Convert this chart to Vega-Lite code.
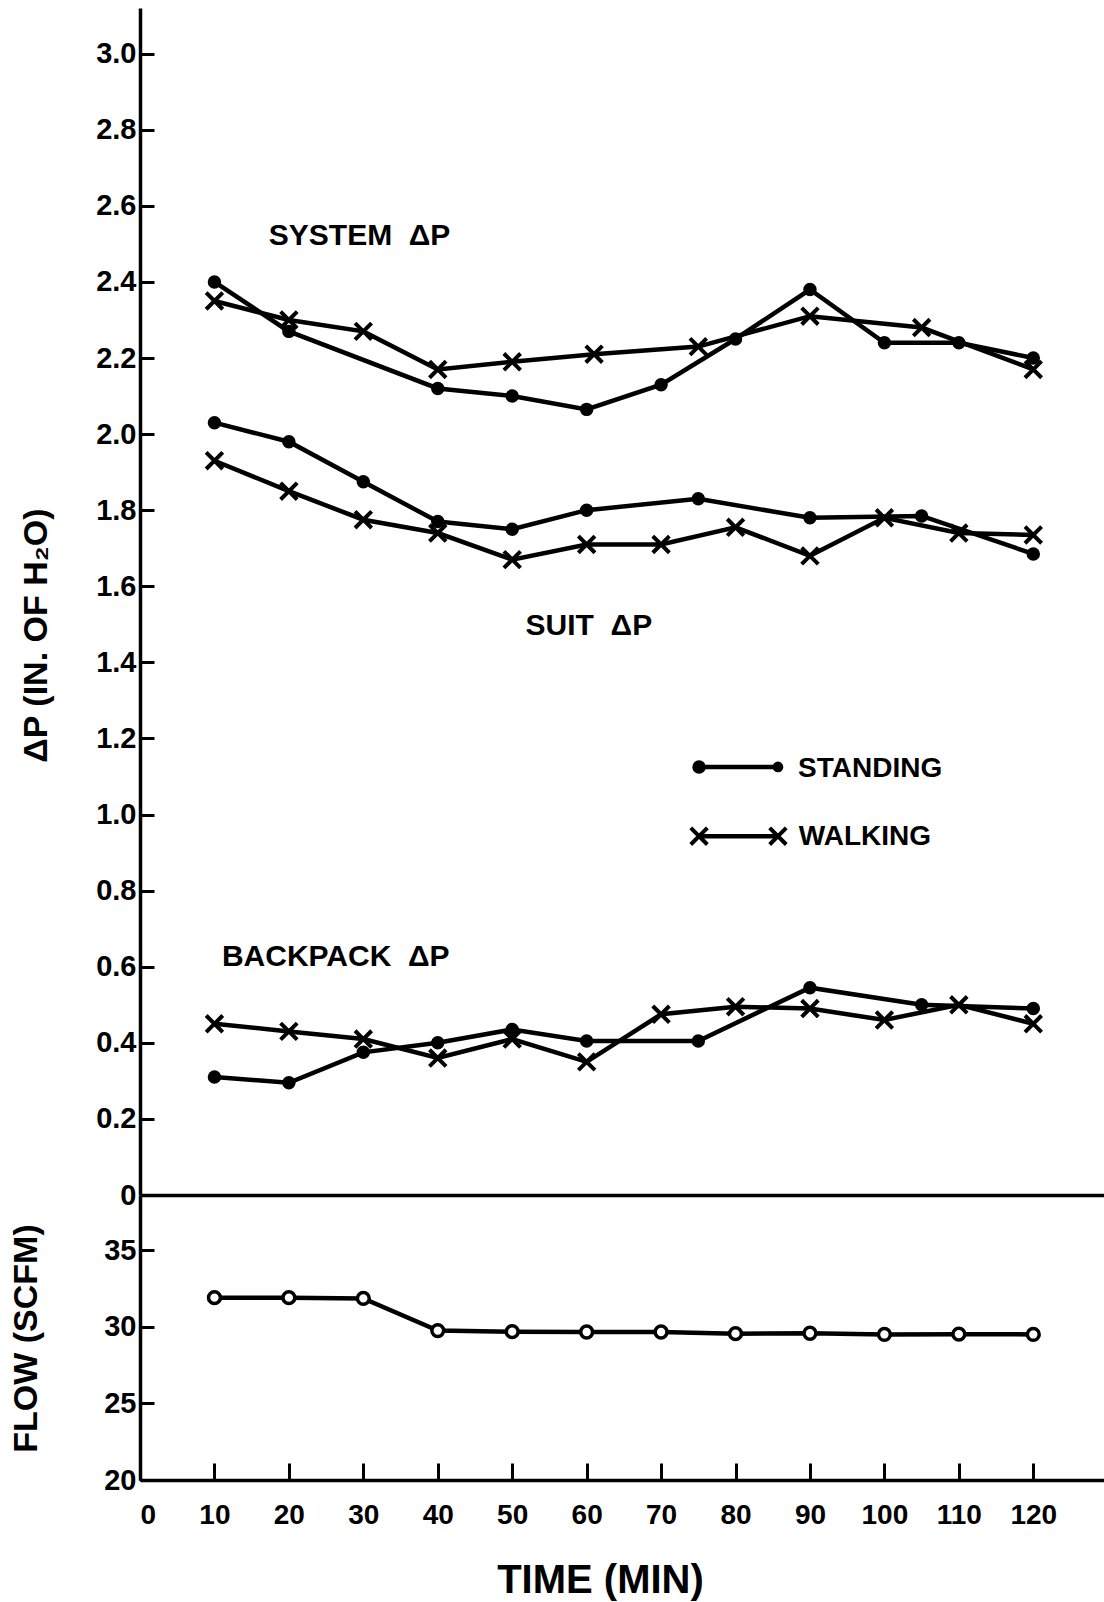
{
  "$schema": "https://vega.github.io/schema/vega-lite/v6.json",
  "background": "white",
  "padding": {"left": 9, "top": 8, "right": 0, "bottom": 5},
  "spacing": 0,
  "bounds": "flush",
  "config": {
    "view": {"stroke": null},
    "font": "Liberation Sans",
    "axis": {
      "grid": false,
      "domainColor": "black",
      "domainWidth": 3.5,
      "tickColor": "black",
      "tickWidth": 3,
      "labelColor": "black",
      "labelFont": "Liberation Sans",
      "labelFontWeight": "bold",
      "titleColor": "black",
      "titleFont": "Liberation Sans",
      "titleFontWeight": "bold"
    }
  },
  "datasets": {
    "dp": [
      {"curve": "SYSTEM", "cond": "STANDING", "t": 10, "dp": 2.40},
      {"curve": "SYSTEM", "cond": "STANDING", "t": 20, "dp": 2.27},
      {"curve": "SYSTEM", "cond": "STANDING", "t": 40, "dp": 2.12},
      {"curve": "SYSTEM", "cond": "STANDING", "t": 50, "dp": 2.10},
      {"curve": "SYSTEM", "cond": "STANDING", "t": 60, "dp": 2.065},
      {"curve": "SYSTEM", "cond": "STANDING", "t": 70, "dp": 2.13},
      {"curve": "SYSTEM", "cond": "STANDING", "t": 80, "dp": 2.25},
      {"curve": "SYSTEM", "cond": "STANDING", "t": 90, "dp": 2.38},
      {"curve": "SYSTEM", "cond": "STANDING", "t": 100, "dp": 2.24},
      {"curve": "SYSTEM", "cond": "STANDING", "t": 110, "dp": 2.24},
      {"curve": "SYSTEM", "cond": "STANDING", "t": 120, "dp": 2.20},
      {"curve": "SYSTEM", "cond": "WALKING", "t": 10, "dp": 2.35},
      {"curve": "SYSTEM", "cond": "WALKING", "t": 20, "dp": 2.30},
      {"curve": "SYSTEM", "cond": "WALKING", "t": 30, "dp": 2.27},
      {"curve": "SYSTEM", "cond": "WALKING", "t": 40, "dp": 2.17},
      {"curve": "SYSTEM", "cond": "WALKING", "t": 50, "dp": 2.19},
      {"curve": "SYSTEM", "cond": "WALKING", "t": 61, "dp": 2.21},
      {"curve": "SYSTEM", "cond": "WALKING", "t": 75, "dp": 2.23},
      {"curve": "SYSTEM", "cond": "WALKING", "t": 90, "dp": 2.31},
      {"curve": "SYSTEM", "cond": "WALKING", "t": 105, "dp": 2.28},
      {"curve": "SYSTEM", "cond": "WALKING", "t": 120, "dp": 2.17},
      {"curve": "SUIT", "cond": "STANDING", "t": 10, "dp": 2.03},
      {"curve": "SUIT", "cond": "STANDING", "t": 20, "dp": 1.98},
      {"curve": "SUIT", "cond": "STANDING", "t": 30, "dp": 1.875},
      {"curve": "SUIT", "cond": "STANDING", "t": 40, "dp": 1.77},
      {"curve": "SUIT", "cond": "STANDING", "t": 50, "dp": 1.75},
      {"curve": "SUIT", "cond": "STANDING", "t": 60, "dp": 1.80},
      {"curve": "SUIT", "cond": "STANDING", "t": 75, "dp": 1.83},
      {"curve": "SUIT", "cond": "STANDING", "t": 90, "dp": 1.78},
      {"curve": "SUIT", "cond": "STANDING", "t": 105, "dp": 1.785},
      {"curve": "SUIT", "cond": "STANDING", "t": 120, "dp": 1.685},
      {"curve": "SUIT", "cond": "WALKING", "t": 10, "dp": 1.93},
      {"curve": "SUIT", "cond": "WALKING", "t": 20, "dp": 1.85},
      {"curve": "SUIT", "cond": "WALKING", "t": 30, "dp": 1.775},
      {"curve": "SUIT", "cond": "WALKING", "t": 40, "dp": 1.74},
      {"curve": "SUIT", "cond": "WALKING", "t": 50, "dp": 1.67},
      {"curve": "SUIT", "cond": "WALKING", "t": 60, "dp": 1.71},
      {"curve": "SUIT", "cond": "WALKING", "t": 70, "dp": 1.71},
      {"curve": "SUIT", "cond": "WALKING", "t": 80, "dp": 1.755},
      {"curve": "SUIT", "cond": "WALKING", "t": 90, "dp": 1.68},
      {"curve": "SUIT", "cond": "WALKING", "t": 100, "dp": 1.78},
      {"curve": "SUIT", "cond": "WALKING", "t": 110, "dp": 1.74},
      {"curve": "SUIT", "cond": "WALKING", "t": 120, "dp": 1.735},
      {"curve": "BACKPACK", "cond": "STANDING", "t": 10, "dp": 0.31},
      {"curve": "BACKPACK", "cond": "STANDING", "t": 20, "dp": 0.295},
      {"curve": "BACKPACK", "cond": "STANDING", "t": 30, "dp": 0.375},
      {"curve": "BACKPACK", "cond": "STANDING", "t": 40, "dp": 0.40},
      {"curve": "BACKPACK", "cond": "STANDING", "t": 50, "dp": 0.435},
      {"curve": "BACKPACK", "cond": "STANDING", "t": 60, "dp": 0.405},
      {"curve": "BACKPACK", "cond": "STANDING", "t": 75, "dp": 0.405},
      {"curve": "BACKPACK", "cond": "STANDING", "t": 90, "dp": 0.545},
      {"curve": "BACKPACK", "cond": "STANDING", "t": 105, "dp": 0.50},
      {"curve": "BACKPACK", "cond": "STANDING", "t": 120, "dp": 0.49},
      {"curve": "BACKPACK", "cond": "WALKING", "t": 10, "dp": 0.45},
      {"curve": "BACKPACK", "cond": "WALKING", "t": 20, "dp": 0.43},
      {"curve": "BACKPACK", "cond": "WALKING", "t": 30, "dp": 0.41},
      {"curve": "BACKPACK", "cond": "WALKING", "t": 40, "dp": 0.36},
      {"curve": "BACKPACK", "cond": "WALKING", "t": 50, "dp": 0.41},
      {"curve": "BACKPACK", "cond": "WALKING", "t": 60, "dp": 0.35},
      {"curve": "BACKPACK", "cond": "WALKING", "t": 70, "dp": 0.475},
      {"curve": "BACKPACK", "cond": "WALKING", "t": 80, "dp": 0.495},
      {"curve": "BACKPACK", "cond": "WALKING", "t": 90, "dp": 0.49},
      {"curve": "BACKPACK", "cond": "WALKING", "t": 100, "dp": 0.46},
      {"curve": "BACKPACK", "cond": "WALKING", "t": 110, "dp": 0.50},
      {"curve": "BACKPACK", "cond": "WALKING", "t": 120, "dp": 0.45}
    ],
    "notes": [
      {"label": "SYSTEM\u00a0\u00a0ΔP", "t": 17.3, "dp": 2.52},
      {"label": "SUIT\u00a0\u00a0ΔP", "t": 51.8, "dp": 1.495},
      {"label": "BACKPACK\u00a0\u00a0ΔP", "t": 11.0, "dp": 0.625}
    ],
    "flow": [
      {"t": 10, "flow": 31.9},
      {"t": 20, "flow": 31.9},
      {"t": 30, "flow": 31.85},
      {"t": 40, "flow": 29.75},
      {"t": 50, "flow": 29.68},
      {"t": 60, "flow": 29.66},
      {"t": 70, "flow": 29.66},
      {"t": 80, "flow": 29.55},
      {"t": 90, "flow": 29.58},
      {"t": 100, "flow": 29.5},
      {"t": 110, "flow": 29.52},
      {"t": 120, "flow": 29.5}
    ]
  },
  "vconcat": [
    {
      "width": 964,
      "height": 1187,
      "layer": [
        {
          "data": {"name": "dp"},
          "mark": {"type": "line", "color": "black", "strokeWidth": 4.5},
          "encoding": {
            "x": {"field": "t", "type": "quantitative", "scale": {"domain": [0, 129.5], "nice": false, "zero": false},
                  "axis": {"labels": false, "ticks": false, "title": null, "domain": true}},
            "y": {"field": "dp", "type": "quantitative", "scale": {"domain": [0, 3.12], "nice": false},
                  "axis": {
                    "values": [0, 0.2, 0.4, 0.6, 0.8, 1.0, 1.2, 1.4, 1.6, 1.8, 2.0, 2.2, 2.4, 2.6, 2.8, 3.0],
                    "labelExpr": "datum.value == 0 ? '0' : format(datum.value, '.1f')",
                    "tickSize": -14,
                    "labelPadding": 18,
                    "labelFontSize": 29,
                    "title": "ΔP (IN. OF H₂O)",
                    "titleFontSize": 34,
                    "titleAngle": -90,
                    "titleX": -104,
                    "titleY": 627,
                    "titleAlign": "center",
                    "titleBaseline": "middle"
                  }},
            "detail": [{"field": "curve"}, {"field": "cond"}]
          }
        },
        {
          "data": {"name": "dp"},
          "mark": {"type": "point", "filled": true, "color": "black", "stroke": "black", "strokeWidth": 4, "opacity": 1, "size": 90},
          "encoding": {
            "x": {"field": "t", "type": "quantitative"},
            "y": {"field": "dp", "type": "quantitative"},
            "shape": {
              "field": "cond", "type": "nominal",
              "scale": {"domain": ["STANDING", "WALKING"], "range": ["circle", "M-1.75,-1.75L1.75,1.75M1.75,-1.75L-1.75,1.75"]},
              "legend": null
            }
          }
        },
        {
          "data": {"name": "notes"},
          "mark": {"type": "text", "align": "left", "baseline": "middle", "font": "Liberation Sans", "fontWeight": "bold", "fontSize": 30, "color": "black"},
          "encoding": {
            "x": {"field": "t", "type": "quantitative"},
            "y": {"field": "dp", "type": "quantitative"},
            "text": {"field": "label"}
          }
        },
        {
          "data": {"values": [{}]},
          "mark": {"type": "rule", "color": "black", "strokeWidth": 4.5},
          "encoding": {
            "x": {"datum": 75.1, "type": "quantitative"},
            "x2": {"datum": 85.7},
            "y": {"datum": 1.125, "type": "quantitative"}
          }
        },
        {
          "data": {"values": [{}]},
          "mark": {"type": "rule", "color": "black", "strokeWidth": 4.5},
          "encoding": {
            "x": {"datum": 75.1, "type": "quantitative"},
            "x2": {"datum": 85.7},
            "y": {"datum": 0.943, "type": "quantitative"}
          }
        },
        {
          "data": {"values": [{}]},
          "mark": {"type": "point", "shape": "circle", "filled": true, "color": "black", "stroke": "black", "strokeWidth": 4, "opacity": 1, "size": 90},
          "encoding": {
            "x": {"datum": 75.1, "type": "quantitative"},
            "y": {"datum": 1.125, "type": "quantitative"}
          }
        },
        {
          "data": {"values": [{}]},
          "mark": {"type": "point", "shape": "circle", "filled": true, "color": "black", "stroke": "black", "strokeWidth": 3, "opacity": 1, "size": 60},
          "encoding": {
            "x": {"datum": 85.7, "type": "quantitative"},
            "y": {"datum": 1.125, "type": "quantitative"}
          }
        },
        {
          "data": {"values": [{}]},
          "mark": {"type": "point", "shape": "M-1.75,-1.75L1.75,1.75M1.75,-1.75L-1.75,1.75", "filled": true, "color": "black", "stroke": "black", "strokeWidth": 4, "opacity": 1, "size": 90},
          "encoding": {
            "x": {"datum": 75.1, "type": "quantitative"},
            "y": {"datum": 0.943, "type": "quantitative"}
          }
        },
        {
          "data": {"values": [{}]},
          "mark": {"type": "point", "shape": "M-1.75,-1.75L1.75,1.75M1.75,-1.75L-1.75,1.75", "filled": true, "color": "black", "stroke": "black", "strokeWidth": 4, "opacity": 1, "size": 90},
          "encoding": {
            "x": {"datum": 85.7, "type": "quantitative"},
            "y": {"datum": 0.943, "type": "quantitative"}
          }
        },
        {
          "data": {"values": [{}]},
          "mark": {"type": "text", "align": "left", "baseline": "middle", "font": "Liberation Sans", "fontWeight": "bold", "fontSize": 28, "color": "black"},
          "encoding": {
            "x": {"datum": 88.4, "type": "quantitative"},
            "y": {"datum": 1.12, "type": "quantitative"},
            "text": {"value": "STANDING"}
          }
        },
        {
          "data": {"values": [{}]},
          "mark": {"type": "text", "align": "left", "baseline": "middle", "font": "Liberation Sans", "fontWeight": "bold", "fontSize": 28, "color": "black"},
          "encoding": {
            "x": {"datum": 88.5, "type": "quantitative"},
            "y": {"datum": 0.94, "type": "quantitative"},
            "text": {"value": "WALKING"}
          }
        }
      ]
    },
    {
      "width": 964,
      "height": 285,
      "data": {"name": "flow"},
      "encoding": {
        "x": {"field": "t", "type": "quantitative", "scale": {"domain": [0, 129.5], "nice": false, "zero": false},
              "axis": {
                "values": [0, 10, 20, 30, 40, 50, 60, 70, 80, 90, 100, 110, 120],
                "tickSize": -17,
                "labelPadding": 38,
                "labelFontSize": 28,
                "title": "TIME (MIN)",
                "titleFontSize": 40,
                "titleX": 460,
                "titleY": 100,
                "titleAlign": "center",
                "titleBaseline": "middle"
              }},
        "y": {"field": "flow", "type": "quantitative", "scale": {"domain": [20, 38.6], "nice": false, "zero": false},
              "axis": {
                "values": [20, 25, 30, 35],
                "tickSize": -14,
                "labelPadding": 18,
                "labelFontSize": 29,
                "title": "FLOW (SCFM)",
                "titleFontSize": 34,
                "titleAngle": -90,
                "titleX": -114,
                "titleY": 143,
                "titleAlign": "center",
                "titleBaseline": "middle"
              }}
      },
      "layer": [
        {"mark": {"type": "line", "color": "black", "strokeWidth": 4.5}},
        {"mark": {"type": "point", "filled": true, "fill": "white", "stroke": "black", "strokeWidth": 3.5, "size": 140, "opacity": 1}}
      ]
    }
  ]
}
